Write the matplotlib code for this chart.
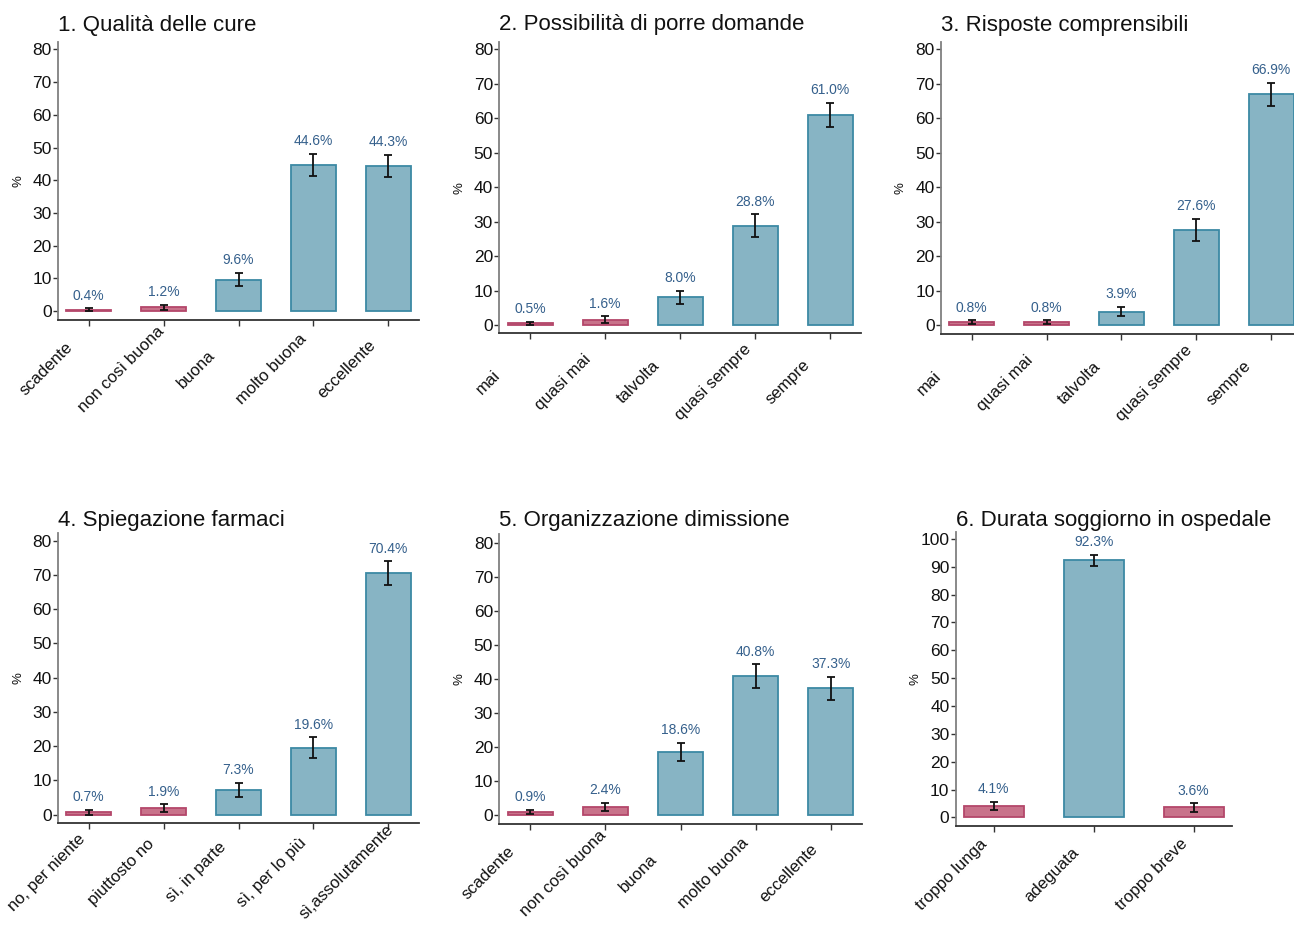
import matplotlib
matplotlib.use("Agg")
import matplotlib.pyplot as plt
from matplotlib.transforms import ScaledTranslation, blended_transform_factory

plt.rcParams['font.family'] = ['Liberation Sans', 'DejaVu Sans']

# ---- data -------------------------------------------------------------
titles = [
    "1. Qualità delle cure",
    "2. Possibilità di porre domande",
    "3. Risposte comprensibili",
    "4. Spiegazione farmaci",
    "5. Organizzazione dimissione",
    "6. Durata soggiorno in ospedale",
]

cats1 = ["scadente", "non così buona", "buona", "molto buona", "eccellente"]
vals1 = [0.4, 1.2, 9.6, 44.6, 44.3]
err1 = [0.5, 0.8, 2.05, 3.45, 3.45]
neg1 = [True, True, False, False, False]

cats2 = ["mai", "quasi mai", "talvolta", "quasi sempre", "sempre"]
vals2 = [0.5, 1.6, 8.0, 28.8, 61.0]
err2 = [0.5, 0.95, 1.95, 3.3, 3.45]
neg2 = [True, True, False, False, False]

cats3 = ["mai", "quasi mai", "talvolta", "quasi sempre", "sempre"]
vals3 = [0.8, 0.8, 3.9, 27.6, 66.9]
err3 = [0.6, 0.6, 1.4, 3.2, 3.35]
neg3 = [True, True, False, False, False]

cats4 = ["no, per niente", "piuttosto no", "sì, in parte", "sì, per lo più", "sì,assolutamente"]
vals4 = [0.7, 1.9, 7.3, 19.6, 70.4]
err4 = [0.65, 1.15, 2.0, 3.0, 3.5]
neg4 = [True, True, False, False, False]

cats5 = ["scadente", "non così buona", "buona", "molto buona", "eccellente"]
vals5 = [0.9, 2.4, 18.6, 40.8, 37.3]
err5 = [0.7, 1.15, 2.7, 3.55, 3.4]
neg5 = [True, True, False, False, False]

cats6 = ["troppo lunga", "adeguata", "troppo breve"]
vals6 = [4.1, 92.3, 3.6]
err6 = [1.5, 1.95, 1.5]
neg6 = [True, False, True]

yticks_80 = [0, 10, 20, 30, 40, 50, 60, 70, 80]
yticks_100 = [0, 10, 20, 30, 40, 50, 60, 70, 80, 90, 100]

panels = [
    (titles[0], cats1, vals1, err1, neg1, yticks_80),
    (titles[1], cats2, vals2, err2, neg2, yticks_80),
    (titles[2], cats3, vals3, err3, neg3, yticks_80),
    (titles[3], cats4, vals4, err4, neg4, yticks_80),
    (titles[4], cats5, vals5, err5, neg5, yticks_80),
    (titles[5], cats6, vals6, err6, neg6, yticks_100),
]

# ---- layout (pixel boxes: left, top, right, bottom) -------------------
W, H = 1294, 926
boxes = [
    (58, 41.5, 419, 320),
    (499.3, 42, 861, 333.3),
    (941, 41.7, 1302, 334),
    (58, 533, 419, 823.3),
    (499.3, 534.3, 861.7, 824),
    (955.7, 532.3, 1231.7, 826),
]
ylims = [(-2.7, 82.4), (-2.4, 82.1), (-2.6, 82.2), (-2.5, 82.2), (-2.6, 82.5), (-3.1, 102.4)]
title_base = [31, 30, 31, 526, 526, 526]

BLUE_FILL, BLUE_EDGE = "#87b4c4", "#3c89a4"
PINK_FILL, PINK_EDGE = "#c8728a", "#b4476a"
LABEL_COLOR = "#35608c"

fig = plt.figure(figsize=(W / 100, H / 100), dpi=100)

for (title, cats, vals, errs, neg, yt), (l, t, r, b), ylim, tb in zip(panels, boxes, ylims, title_base):
    ax = fig.add_axes([l / W, 1 - b / H, (r - l) / W, (b - t) / H])
    x = list(range(len(cats)))
    fills = [PINK_FILL if n else BLUE_FILL for n in neg]
    edges = [PINK_EDGE if n else BLUE_EDGE for n in neg]
    ax.bar(x, vals, width=0.6, color=fills, edgecolor=edges, linewidth=1.3, zorder=2)
    ax.errorbar(x, vals, yerr=errs, fmt="none", ecolor="#111111", elinewidth=1.3,
                capsize=3, capthick=1.3, zorder=3)
    for xi, v, e in zip(x, vals, errs):
        ax.annotate(f"{v:.1f}%", xy=(xi, v + e), xytext=(0, 6.2), textcoords="offset points",
                    ha="center", va="baseline", fontsize=10, color=LABEL_COLOR)

    n = len(cats)
    margin = 0.41 if n == 5 else 0.38
    ax.set_xlim(-margin, n - 1 + margin)
    ax.set_ylim(*ylim)
    ax.set_yticks(yt)
    ax.set_yticklabels([str(v) for v in yt])
    ax.set_xticks(x)
    ax.set_xticklabels([])

    for s in ("top", "right"):
        ax.spines[s].set_visible(False)
    ax.spines["left"].set_color("#808080")
    ax.spines["left"].set_linewidth(1.3)
    ax.spines["bottom"].set_color("#333333")
    ax.spines["bottom"].set_linewidth(1.3)
    ax.tick_params(axis="y", length=3.5, width=1, color="#333333", pad=1,
                   labelsize=12.5, labelcolor="#111111")
    ax.tick_params(axis="x", length=4, width=1, color="#333333")

    # rotated category labels, centred below and to the left of each tick
    base = blended_transform_factory(ax.transData, ax.transAxes)
    for xi, c in zip(x, cats):
        tr = base + ScaledTranslation(-0.42, -0.49, fig.dpi_scale_trans)
        ax.text(xi, 0, c, transform=tr, rotation=45, rotation_mode="anchor",
                ha="center", va="center", fontsize=12, color="#111111", clip_on=False)

    axw = r - l
    ax.set_ylabel("%", fontsize=9.5, color="#111111")
    ax.yaxis.set_label_coords(-34 / axw, 0.5)

    ttr = blended_transform_factory(ax.transAxes, fig.transFigure)
    ax.text(0, 1 - tb / H, title, transform=ttr, ha="left", va="baseline",
            fontsize=16, color="#111111")

fig.savefig("out.png", dpi=100)
